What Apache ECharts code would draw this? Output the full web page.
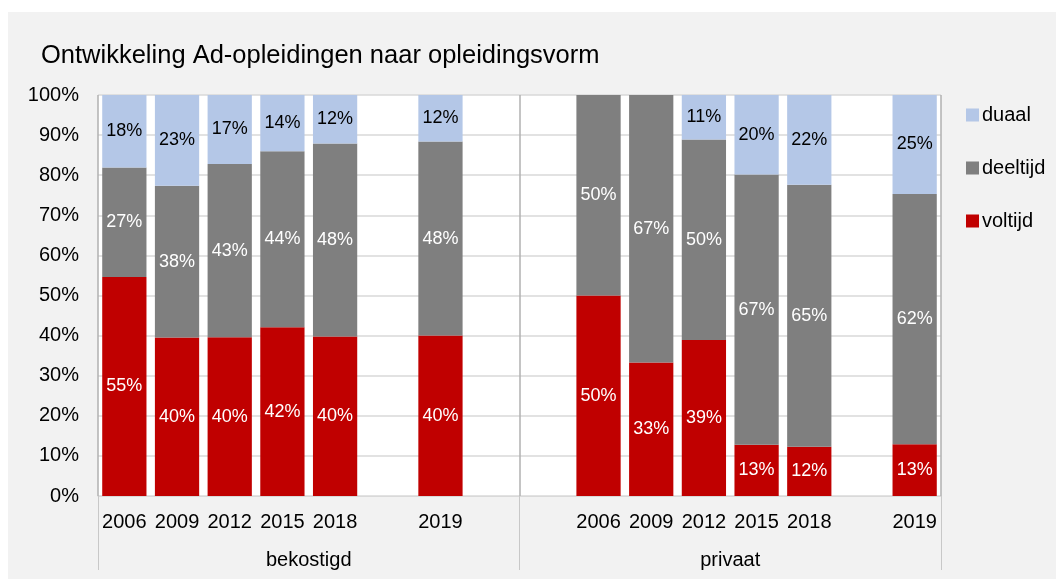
<!DOCTYPE html>
<html>
<head>
<meta charset="utf-8">
<script src="https://cdn.jsdelivr.net/npm/echarts@6/dist/echarts.min.js"></script>
<style>
  body { margin: 0; background: #fff; }
  #chart { position: absolute; left: 8px; top: 12px; width: 1048px; height: 567px; }
</style>
</head>
<body>
<div id="chart"></div>
<script>
  // categorieën: lege plekken zijn tussenruimtes zoals in de bron
  var years = ['2006', '2009', '2012', '2015', '2018', '', '2019', '', '', '2006', '2009', '2012', '2015', '2018', '', '2019'];
  var groups = ['bekostigd', 'privaat'];
  var voltijd = [54.6, 39.5, 39.6, 42.1, 39.8, null, 40.0, null, null, 50.0, 33.3, 38.9, 12.8, 12.3, null, 12.9];
  var deeltijd = [27.3, 37.9, 43.2, 43.9, 48.1, null, 48.4, null, null, 50.0, 66.7, 50.0, 67.4, 65.3, null, 62.4];
  var duaal = [18.1, 22.6, 17.2, 14.0, 12.1, null, 11.6, null, null, 0, 0, 11.1, 19.8, 22.4, null, 24.7];

  var font = '"Liberation Sans", Arial, sans-serif';
  var chart = echarts.init(document.getElementById('chart'));

  function pct(p) {
    return p.value ? Math.round(p.value) + '%' : '';
  }

  function bar(name, data, color, labelColor) {
    return {
      name: name,
      type: 'bar',
      stack: 'totaal',
      data: data,
      barCategoryGap: '16%',
      itemStyle: { color: color },
      label: {
        show: true,
        position: 'inside',
        formatter: pct,
        color: labelColor,
        fontSize: 18,
        fontFamily: font
      }
    };
  }

  chart.setOption({
    backgroundColor: '#f2f2f2',
    animation: false,
    title: {
      text: 'Ontwikkeling Ad-opleidingen naar opleidingsvorm',
      left: 33,
      top: 31,
      padding: 0,
      textStyle: { fontSize: 25.5, fontWeight: 'normal', color: '#000', fontFamily: font }
    },
    legend: {
      orient: 'vertical',
      left: 958,
      top: 93,
      padding: 0,
      icon: 'rect',
      itemWidth: 13,
      itemHeight: 13,
      itemGap: 33,
      data: ['duaal', 'deeltijd', 'voltijd'],
      textStyle: { fontSize: 20, color: '#000', fontFamily: font, padding: [0, 0, 0, -2] }
    },
    grid: {
      left: 90,
      top: 83,
      width: 843,
      height: 401,
      show: true,
      backgroundColor: '#fff',
      borderWidth: 0
    },
    xAxis: [{
      type: 'category',
      data: years,
      axisLine: { lineStyle: { color: '#d9d9d9' } },
      axisTick: { show: false },
      axisLabel: { interval: 0, margin: 16, fontSize: 20, color: '#000', fontFamily: font }
    }, {
      type: 'category',
      data: groups,
      position: 'bottom',
      offset: 0,
      axisLine: { show: false },
      axisTick: { show: true, length: 74, lineStyle: { color: '#c8c8c8' } },
      splitLine: {
        show: true,
        interval: 0,
        lineStyle: { color: ['#b0b0b0'], width: 1.5 }
      },
      axisLabel: { margin: 54, fontSize: 20, color: '#000', fontFamily: font }
    }],
    yAxis: {
      type: 'value',
      min: 0,
      max: 100,
      interval: 10,
      axisLine: { show: false },
      axisTick: { show: false },
      splitLine: { lineStyle: { color: '#d9d9d9', width: 1.5 } },
      axisLabel: { formatter: '{value}%', margin: 19, fontSize: 20, color: '#000', fontFamily: font }
    },
    series: [
      bar('voltijd', voltijd, '#c00000', '#fff'),
      bar('deeltijd', deeltijd, '#7f7f7f', '#fff'),
      bar('duaal', duaal, '#b4c7e7', '#000')
    ]
  });
</script>
</body>
</html>
